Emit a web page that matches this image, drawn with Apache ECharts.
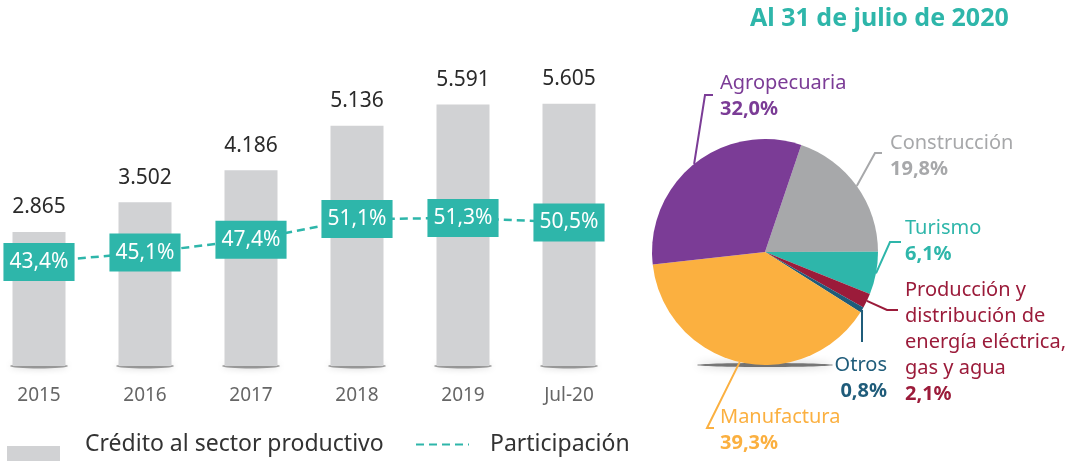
<!DOCTYPE html>
<html>
<head>
<meta charset="utf-8">
<script src="https://cdn.jsdelivr.net/npm/echarts@6/dist/echarts.min.js"></script>
<style>html,body{margin:0;padding:0;background:#fff}#c{width:1080px;height:461px}</style>
</head>
<body>
<div id="c"></div>
<script>
const categories = ['2015', '2016', '2017', '2018', '2019', 'Jul-20'];
const credito = [2865, 3502, 4186, 5136, 5591, 5605];
const participacion = [43.4, 45.1, 47.4, 51.1, 51.3, 50.5];
const shadowBase = [0, 0, 0, 0, 0, 0];
const pieNames = ['Construcción', 'Turismo', 'Producción y\ndistribución de\nenergía eléctrica,\ngas y agua', 'Otros', 'Manufactura', 'Agropecuaria'];
const pieValues = [19.8, 6.1, 2.1, 0.8, 39.3, 32.0];
const pieColors = ['#A7A8AA', '#2EB6AA', '#9B1B3A', '#1F5C7A', '#FBB040', '#7B3C96'];
const pieLabelColors = ['#A7A8AA', '#2EB6AA', '#9B1B3A', '#1F5C7A', '#FBB040', '#7B3C96'];

const FONT = '"Noto Sans", sans-serif';
const fmtNum = v => v.toLocaleString('de-DE');
const fmtPct = v => v.toFixed(1).replace('.', ',') + '%';

// label placement (text anchors and label line elbows)
const pieLabelPos = [
  {x: 890, y: 130, align: 'left', pts: [[875, 153], [882, 153]]},
  {x: 905, y: 215, align: 'left', pts: [[890, 242], [901, 242]]},
  {x: 905, y: 277, align: 'left', pts: [[887, 310], [898, 310]]},
  {x: 887, y: 352, align: 'right', pts: [[862, 326], [862, 342]]},
  {x: 720, y: 404, align: 'left', pts: [[707, 428], [714, 428]]},
  {x: 720, y: 70, align: 'left', pts: [[705, 95], [713, 95]]}
];

const chart = echarts.init(document.getElementById('c'));
const teal = '#2EB6AA';

chart.setOption({
  animation: false,
  textStyle: {fontFamily: FONT},
  title: {
    text: 'Al 31 de julio de 2020',
    left: 750, top: 6, padding: 0,
    textStyle: {color: teal, fontSize: 25, fontWeight: 'bold', fontFamily: FONT}
  },
  legend: [
    {
      data: ['Crédito al sector productivo'],
      left: 7, top: 446, padding: 0, itemWidth: 53, itemHeight: 16, icon: 'rect',
      formatter: () => '',
      textStyle: {fontSize: 1}
    },
    {
      data: ['Crédito al sector productivo'],
      left: 79, top: 433, padding: 0, itemWidth: 1, itemHeight: 14, icon: 'rect',
      itemStyle: {opacity: 0},
      textStyle: {fontSize: 23, color: '#333', fontFamily: FONT}
    },
    {
      data: ['Participación'],
      left: 415, top: 433, padding: 0, itemWidth: 53, itemHeight: 14,
      itemStyle: {opacity: 0},
      textStyle: {fontSize: 23, color: '#333', fontFamily: FONT, padding: [0, 0, 0, 16]}
    }
  ],
  grid: {left: 39, right: 511, top: 38.6, bottom: 95},
  xAxis: {
    type: 'category',
    data: categories,
    boundaryGap: false,
    axisLine: {show: false},
    axisTick: {show: false},
    axisLabel: {color: '#666', fontSize: 19, margin: 20, fontFamily: FONT}
  },
  yAxis: [
    {type: 'value', min: 0, max: 7000, show: false, splitLine: {show: false}},
    {type: 'value', min: 24.73, max: 83.5, show: false, splitLine: {show: false}}
  ],
  graphic: [{
    type: 'ellipse', z: 0,
    shape: {cx: 765, cy: 365, rx: 68, ry: 2},
    style: {fill: 'rgba(0,0,0,0.5)', shadowBlur: 8, shadowColor: 'rgba(0,0,0,0.6)'}
  }],
  series: [
    {
      type: 'scatter', name: 'shadow', data: shadowBase, z: 1,
      symbol: 'circle', symbolSize: [58, 5], silent: true,
      itemStyle: {color: 'rgba(0,0,0,0.45)', shadowBlur: 7, shadowColor: 'rgba(0,0,0,0.5)'}
    },
    {
      type: 'bar', name: 'Crédito al sector productivo', data: credito, z: 2,
      barWidth: 53,
      itemStyle: {color: '#D1D2D4'},
      label: {
        show: true, position: 'top', distance: 14,
        color: '#2a2a2a', fontSize: 21, fontFamily: FONT,
        formatter: p => fmtNum(p.value)
      }
    },
    {
      type: 'line', name: 'Participación', data: participacion, yAxisIndex: 1, z: 5,
      symbol: 'circle', symbolSize: 1,
      itemStyle: {color: teal},
      lineStyle: {color: teal, width: 2.5, type: [8, 5]},
      label: {
        show: true, position: 'inside',
        color: '#fff', fontSize: 21, fontFamily: FONT,
        backgroundColor: teal, padding: [7, 6, 7, 6], lineHeight: 24,
        formatter: p => fmtPct(p.value)
      }
    },
    {
      type: 'pie', name: 'sectores', z: 3,
      center: [765, 252], radius: 113,
      startAngle: 71.3, clockwise: true,
      data: pieNames.map((n, i) => ({
        name: n, value: pieValues[i],
        itemStyle: {color: pieColors[i]},
        label: {color: pieLabelColors[i]}
      })),
      label: {
        show: true, position: 'outside', fontFamily: FONT,
        formatter: p => p.name.split('\n').map(s => '{n|' + s + '}').join('\n') + '\n{p|' + fmtPct(p.value) + '}',
        rich: {
          n: {fontSize: 20, lineHeight: 26, fontFamily: FONT},
          p: {fontSize: 20, lineHeight: 26, fontWeight: 'bold', fontFamily: FONT}
        }
      },
      labelLine: {show: true, length: 10, length2: 10, lineStyle: {width: 2}},
      labelLayout: params => {
        const c = pieLabelPos[params.dataIndex];
        const start = params.labelLinePoints ? params.labelLinePoints[0] : c.pts[0];
        return {
          x: c.x, y: c.y, align: c.align, verticalAlign: 'top',
          labelLinePoints: [start, c.pts[0], c.pts[1]]
        };
      }
    }
  ]
});
</script>
</body>
</html>
